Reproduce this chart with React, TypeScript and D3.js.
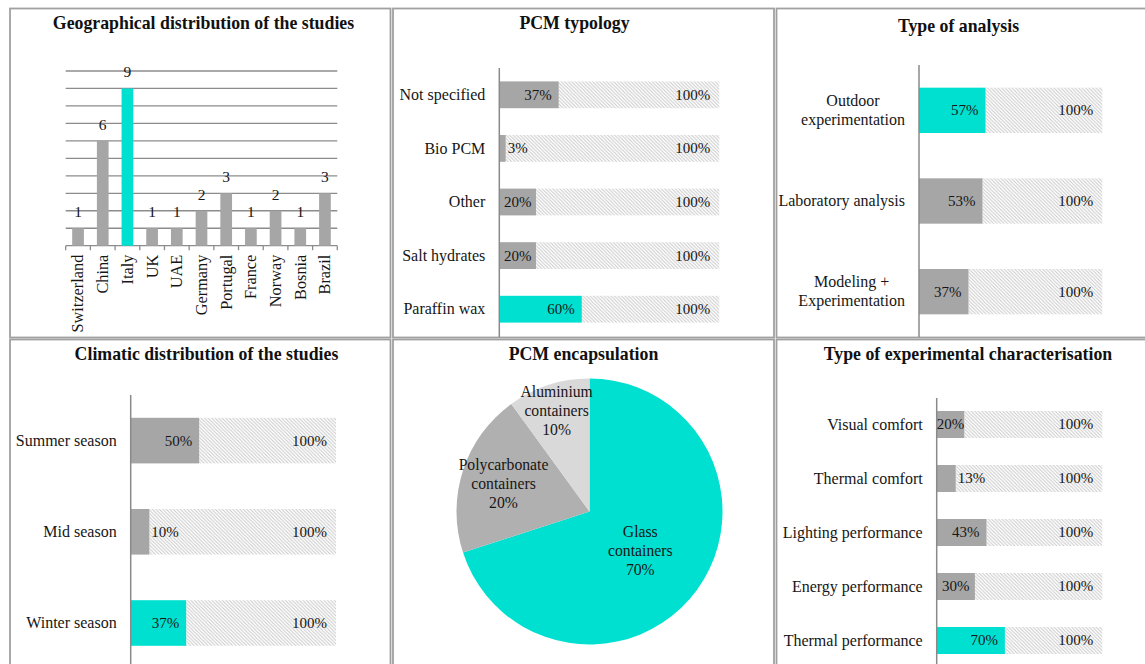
import React from 'react';
import * as d3 from 'd3';

// ---------- DATA ----------
const countries = ['Switzerland', 'China', 'Italy', 'UK', 'UAE', 'Germany', 'Portugal', 'France', 'Norway', 'Bosnia', 'Brazil'];
const studyCounts = [1, 6, 9, 1, 1, 2, 3, 1, 2, 1, 3];
const countryHighlight = 'Italy';
const countTicks = [1, 2, 3, 4, 5, 6, 7, 8, 9, 10];

const pcmTypes = [['Not specified'], ['Bio PCM'], ['Other'], ['Salt hydrates'], ['Paraffin wax']];
const pcmShares = [0.37, 0.03, 0.2, 0.2, 0.6];
const pcmHighlight = 'Paraffin wax';

const analysisTypes = [['Outdoor', 'experimentation'], ['Laboratory analysis'], ['Modeling +', 'Experimentation']];
const analysisShares = [0.57, 0.53, 0.37];
const analysisHighlight = 'Outdoor';

const seasons = [['Summer season'], ['Mid season'], ['Winter season']];
const seasonShares = [0.5, 0.1, 0.37];
const seasonHighlight = 'Winter season';

const encapsulations = [['Glass', 'containers'], ['Polycarbonate', 'containers'], ['Aluminium', 'containers']];
const encapsulationShares = [0.7, 0.2, 0.1];

const characterisations = [['Visual comfort'], ['Thermal comfort'], ['Lighting performance'], ['Energy performance'], ['Thermal performance']];
const characterisationShares = [0.2, 0.13, 0.43, 0.3, 0.7];
const characterisationHighlight = 'Thermal performance';

const fullShare = 1; // the "100%" reference series

// ---------- STYLE ----------
const CYAN = '#00E0D0';
const GRAY = '#A6A6A6';
const PIE_COLORS = [CYAN, '#B0B0B0', '#D9D9D9'];
const FONT = "'Liberation Serif', 'Times New Roman', serif";
const TEXT = '#161616';
const CAT_SIZE = 16;
const VAL_SIZE = 15;
const pct = d3.format('.0%');

let ctx: CanvasRenderingContext2D | null = null;
function measure(text: string, size = 15): number {
  if (!ctx) ctx = document.createElement('canvas').getContext('2d');
  if (!ctx) return text.length * size * 0.5;
  ctx.font = `${size}px 'Liberation Serif'`;
  return ctx.measureText(text).width;
}

function Title({ x, y, text }: { x: number; y: number; text: string }) {
  return (
    <text x={x} y={y} textAnchor="middle" fontFamily={FONT} fontWeight="bold" fontSize={17.8} fill="#111">
      {text}
    </text>
  );
}

type StackProps = {
  cats: string[][];
  shares: number[];
  highlight: string;
  axisX: number;
  endX: number;
  yTop: number;
  yBottom: number;
  axisTop: number;
  axisBottom: number;
};

function StackedPanel({ cats, shares, highlight, axisX, endX, yTop, yBottom, axisTop, axisBottom }: StackProps) {
  const data = shares.map((v, i) => ({ i, value: v, total: fullShare }));
  const series = d3.stack<any>().keys(['value', 'total']).offset(d3.stackOffsetExpand)(data);
  const x = d3.scaleLinear().domain([0, 1]).range([axisX, endX]);
  const y = d3.scaleBand<number>().domain(d3.range(cats.length)).range([yTop, yBottom]).paddingInner(0.5).paddingOuter(0.25);
  const bw = y.bandwidth();
  return (
    <g>
      {series[1].map((s, i) => (
        <rect key={'t' + i} x={x(s[0])} y={y(i)} width={x(s[1]) - x(s[0])} height={bw} fill="url(#hatch)" />
      ))}
      {series[0].map((s, i) => (
        <rect key={'v' + i} x={x(s[0])} y={y(i)} width={x(s[1]) - x(s[0])} height={bw}
          fill={cats[i][0] === highlight ? CYAN : GRAY} />
      ))}
      <line x1={axisX} x2={axisX} y1={axisTop} y2={axisBottom} stroke="#8a8a8a" strokeWidth={1.5} />
      {series[0].map((s, i) => {
        const label = pct(shares[i]);
        const w = measure(label, VAL_SIZE);
        const segW = x(s[1]) - x(s[0]);
        const cy = (y(i) as number) + bw / 2;
        const inside = segW + 3 >= w;
        const tx = inside ? x(s[1]) - Math.min(7, Math.max(0, (segW - w) / 2)) : x(s[1]) + 2;
        return (
          <text key={'lv' + i} x={tx} y={cy} dy="0.33em" textAnchor={inside ? 'end' : 'start'}
            fontFamily={FONT} fontSize={VAL_SIZE} fill={TEXT}>{label}</text>
        );
      })}
      {series[1].map((s, i) => {
        const cy = (y(i) as number) + bw / 2;
        return (
          <text key={'lt' + i} x={x(s[1]) - 9} y={cy} dy="0.33em" textAnchor="end"
            fontFamily={FONT} fontSize={VAL_SIZE} fill={TEXT}>{pct(fullShare)}</text>
        );
      })}
      {cats.map((lines, i) => {
        const cy = (y(i) as number) + bw / 2;
        const blockW = Math.max(...lines.map((l) => measure(l, CAT_SIZE)));
        const cx = axisX - 14 - blockW / 2;
        const lh = 19;
        return (
          <text key={'c' + i} textAnchor="middle" fontFamily={FONT} fontSize={CAT_SIZE} fill={TEXT}>
            {lines.map((l, j) => (
              <tspan key={j} x={cx} y={cy + (j - (lines.length - 1) / 2) * lh} dy="0.33em">{l}</tspan>
            ))}
          </text>
        );
      })}
    </g>
  );
}

function GeoPanel() {
  const x = d3.scaleBand<string>().domain(countries).range([65.7, 337.3]).paddingInner(0.526).paddingOuter(0.263);
  const y = d3.scaleLinear().domain([0, 10]).range([245.7, 71]);
  const step = x.step();
  const x0 = 65.7;
  return (
    <g>
      {countTicks.map((t) => (
        <line key={t} x1={65.7} x2={337.3} y1={y(t)} y2={y(t)} stroke="#8c8c8c" strokeWidth={1.3} />
      ))}
      <line x1={65.7} x2={337.3} y1={y(0)} y2={y(0)} stroke="#8c8c8c" strokeWidth={1.3} />
      {d3.range(countries.length + 1).map((i) => (
        <line key={'tk' + i} x1={x0 + i * step} x2={x0 + i * step} y1={y(0)} y2={y(0) + 4.5} stroke="#8c8c8c" strokeWidth={1.3} />
      ))}
      {countries.map((c, i) => (
        <rect key={c} x={x(c)} y={y(studyCounts[i])} width={x.bandwidth()} height={y(0) - y(studyCounts[i])}
          fill={c === countryHighlight ? CYAN : GRAY} />
      ))}
      {countries.map((c, i) => (
        <text key={'l' + c} x={(x(c) as number) + x.bandwidth() / 2} y={y(studyCounts[i]) - 11} textAnchor="middle"
          fontFamily={FONT} fontSize={15.5} fill={TEXT}>{studyCounts[i]}</text>
      ))}
      {countries.map((c) => (
        <text key={'c' + c} transform={`translate(${(x(c) as number) + x.bandwidth() / 2},${y(0) + 9}) rotate(-90)`}
          textAnchor="end" dy="0.33em" fontFamily={FONT} fontSize={16.3} fill={TEXT}>{c}</text>
      ))}
    </g>
  );
}

function PiePanel() {
  const cx = 589.5, cy = 511.5, r = 133;
  const labelRadius = [0.5, 0.68, 0.8];
  const arcs = d3.pie<number>().sort(null).value((d) => d)(encapsulationShares);
  const arc = d3.arc<d3.PieArcDatum<number>>().innerRadius(0).outerRadius(r);
  return (
    <g transform={`translate(${cx},${cy})`}>
      {arcs.map((a, i) => (
        <path key={i} d={arc(a) as string} fill={PIE_COLORS[i]} />
      ))}
      {arcs.map((a, i) => {
        const mid = (a.startAngle + a.endAngle) / 2;
        const lr = r * labelRadius[i];
        const lx = Math.sin(mid) * lr - (i === 0 ? 3 : 0);
        const ly = -Math.cos(mid) * lr;
        const lines = [...encapsulations[i], pct(encapsulationShares[i])];
        return (
          <text key={'l' + i} textAnchor="middle" fontFamily={FONT} fontSize={15.7} fill={TEXT}>
            {lines.map((l, j) => (
              <tspan key={j} x={lx} y={ly + (j - 1) * 19} dy="0.33em">{l}</tspan>
            ))}
          </text>
        );
      })}
    </g>
  );
}

export default function App() {
  const panels = [
    [10, 8.5, 380.5, 329],
    [393, 8.5, 381, 329],
    [776.5, 8.5, 380, 329],
    [10, 339.5, 380.5, 340],
    [393, 339.5, 381, 340],
    [776.5, 339.5, 380, 340],
  ];
  return (
    <svg width={1145} height={664} style={{ position: 'absolute', left: 0, top: 0, background: '#fff' }}>
      <defs>
        <pattern id="hatch" patternUnits="userSpaceOnUse" width={3.5} height={3.5}>
          <rect width={3.5} height={3.5} fill="#fff" />
          <path d="M-1,-1 L4.5,4.5 M-1,2.5 L1,4.5 M2.5,-1 L4.5,1" stroke="#c6c6c6" strokeWidth={0.9} />
        </pattern>
      </defs>
      <rect width={1145} height={664} fill="#fff" />
      {panels.map(([px, py, pw, ph], i) => (
        <rect key={i} x={px} y={py} width={pw} height={ph} fill="none" stroke="#a0a0a0" strokeWidth={1.8} />
      ))}
      <Title x={203.5} y={29} text="Geographical distribution of the studies" />
      <Title x={574.5} y={29} text="PCM typology" />
      <Title x={958.5} y={31.5} text="Type of analysis" />
      <Title x={206.5} y={360} text="Climatic distribution of the studies" />
      <Title x={583.5} y={360} text="PCM encapsulation" />
      <Title x={968} y={360} text="Type of experimental characterisation" />

      <GeoPanel />
      <StackedPanel cats={pcmTypes} shares={pcmShares} highlight={pcmHighlight}
        axisX={499.3} endX={719.3} yTop={68} yBottom={336} axisTop={68} axisBottom={337} />
      <StackedPanel cats={analysisTypes} shares={analysisShares} highlight={analysisHighlight}
        axisX={919} endX={1102.3} yTop={65} yBottom={337} axisTop={65} axisBottom={337} />
      <StackedPanel cats={seasons} shares={seasonShares} highlight={seasonHighlight}
        axisX={130.7} endX={336} yTop={395} yBottom={668.6} axisTop={395} axisBottom={664} />
      <PiePanel />
      <StackedPanel cats={characterisations} shares={characterisationShares} highlight={characterisationHighlight}
        axisX={936.7} endX={1102.3} yTop={397.5} yBottom={667.5} axisTop={398} axisBottom={664} />
    </svg>
  );
}
